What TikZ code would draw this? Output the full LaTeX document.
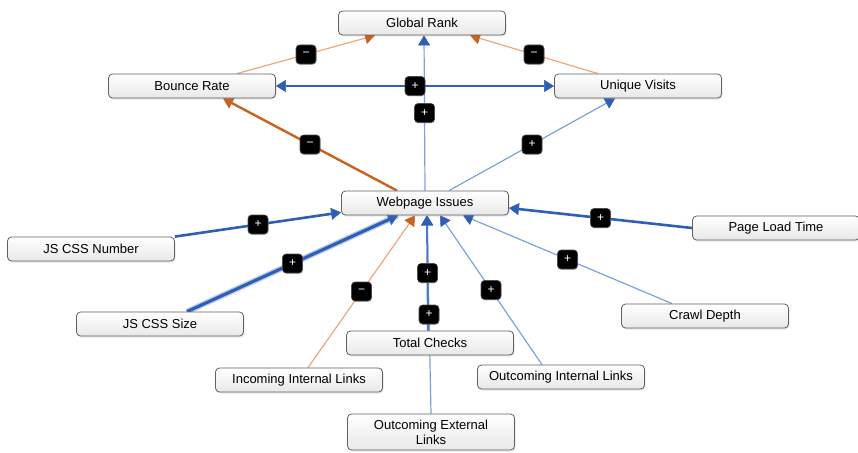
\documentclass[tikz,border=0pt]{standalone}
\usepackage{fontspec}
\setmainfont{Liberation Sans}
\usetikzlibrary{arrows.meta,shadows,backgrounds}
\definecolor{posblue}{HTML}{2F5FB5}
\definecolor{lightblue}{HTML}{7BA3DB}
\definecolor{negorange}{HTML}{C8621E}
\definecolor{lightorange}{HTML}{ECA77A}
\tikzset{
  bluetip/.tip={Triangle[width=12pt,length=10pt,color=posblue,line width=0.5pt]},
  orangetip/.tip={Triangle[width=12pt,length=10pt,color=negorange,line width=0.5pt]}
}
\begin{document}
\begin{tikzpicture}[x=1pt,y=-1pt,
  box/.style={draw=gray!75!black, line width=0.8pt, rounded corners=4pt, top color=white, bottom color=gray!18,
    minimum width=167pt, minimum height=24pt, inner sep=2pt, align=center, font=\fontsize{13}{15}\selectfont,
    drop shadow={opacity=0.2,shadow xshift=1pt,shadow yshift=-1.5pt}},
  sign/.style={fill=black, draw=gray!60!black, line width=0.6pt, rounded corners=3.5pt, text=white,
    minimum width=20pt, minimum height=19pt, inner sep=0pt, font=\fontsize{12}{12}\selectfont,
    drop shadow={opacity=0.25,shadow xshift=0.5pt,shadow yshift=-1pt}},
  plusline/.style={-bluetip, draw=lightblue, line width=1.2pt},
  plusthick/.style={-bluetip, draw=posblue, line width=2.6pt},
  plusstrong/.style={plusthick, line width=3.2pt, preaction={draw=posblue!30, line width=6pt, -}},
  minusline/.style={-orangetip, draw=lightorange, line width=1.2pt},
  minusthick/.style={-orangetip, draw=negorange, line width=2.4pt}]
\useasboundingbox (0,0) rectangle (858,452);
\node[box] (global) at (422,23) {Global Rank};
\node[box] (bounce) at (192,86) {Bounce Rate};
\node[box] (unique) at (638,86) {Unique Visits};
\node[box] (web) at (425,203) {Webpage Issues};
\node[box] (jsnum) at (91,249) {JS CSS Number};
\node[box] (load) at (776,228) {Page Load Time};
\node[box] (jssize) at (160,324) {JS CSS Size};
\node[box] (crawl) at (705,316) {Crawl Depth};
\node[box] (total) at (430,343) {Total Checks};
\node[box] (inlinks) at (299,380) {Incoming Internal Links};
\node[box] (outlinks) at (561,377) {Outcoming Internal Links};
\node[box, minimum height=36pt] (extlinks) at (431,432) {Outcoming External\\Links};
\begin{scope}[on background layer]
\draw[minusline] ([xshift=45pt]bounce.north) -- coordinate (m1) ([xshift=-47pt]global.south);
\draw[minusline] ([xshift=-40pt]unique.north) -- coordinate (m2) ([xshift=48pt]global.south);
\draw[plusline] (web.north) -- coordinate (m3) ([xshift=2pt]global.south);
\draw[plusthick, bluetip-bluetip] (bounce.east) -- coordinate (m4) (unique.west);
\draw[minusthick] ([xshift=-28pt]web.north) -- coordinate (m5) ([xshift=31pt]bounce.south);
\draw[plusline] ([xshift=24pt]web.north) -- coordinate (m6) ([xshift=-23pt]unique.south);
\draw[plusthick] (jsnum.north east) -- coordinate (m7) ([yshift=3pt]web.south west);
\draw[plusstrong] ([xshift=27pt]jssize.north) -- coordinate (m8) ([xshift=-27pt]web.south);
\draw[minusline] ([xshift=9pt]inlinks.north) -- coordinate (m9) ([xshift=-10pt]web.south);
\draw[plusline] (extlinks.north) -- coordinate (m10) ([xshift=2pt]web.south);
\draw[plusline, line width=2pt, draw=posblue!85] ([xshift=-2pt]total.north) -- coordinate (m11) ([xshift=2pt]web.south);
\draw[plusline] ([xshift=-19pt]outlinks.north) -- coordinate (m12) ([xshift=15pt]web.south);
\draw[plusline] ([xshift=-33pt]crawl.north) -- coordinate (m13) ([xshift=38pt]web.south);
\draw[plusthick] (load.west) -- coordinate (m14) ([yshift=-5pt]web.east);
\end{scope}
\node[sign] (s1) at (m1) {−};
\node[sign] (s2) at (m2) {−};
\node[sign] (s3) at (m3) {+};
\node[sign] (s4) at (m4) {+};
\node[sign] (s5) at (m5) {−};
\node[sign] (s6) at (m6) {+};
\node[sign] (s7) at (m7) {+};
\node[sign] (s8) at (m8) {+};
\node[sign] (s9) at (m9) {−};
\node[sign] (s10) at (m10) {+};
\node[sign] (s11) at (m11) {+};
\node[sign] (s12) at (m12) {+};
\node[sign] (s13) at (m13) {+};
\node[sign] (s14) at (m14) {+};
\end{tikzpicture}
\end{document}
